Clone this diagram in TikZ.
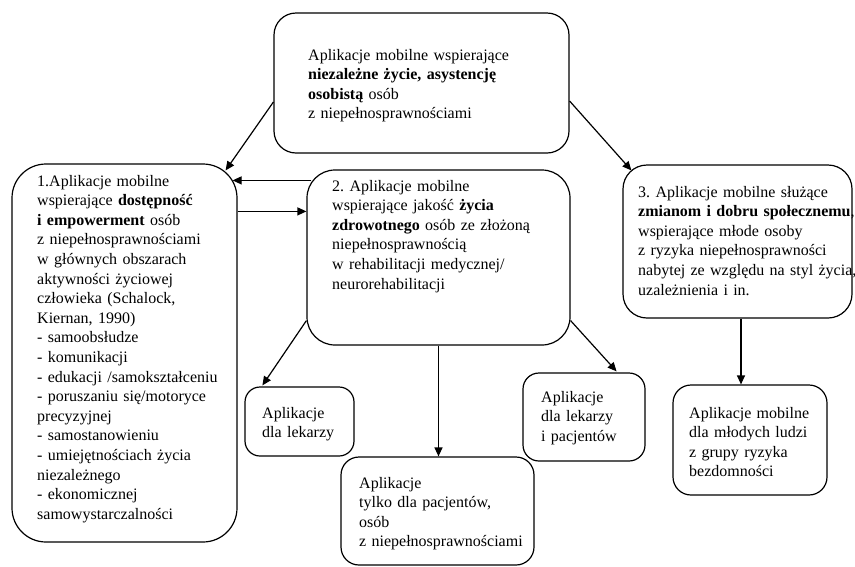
\documentclass[tikz,border=0pt]{standalone}
\usepackage{fontspec}
\setmainfont{Liberation Serif}
\usetikzlibrary{arrows.meta}
\frenchspacing
\begin{document}
\begin{tikzpicture}[x=1pt,y=-1pt,
  box/.style={draw, line width=1.2pt, inner sep=0pt},
  txt/.style={inner sep=0pt, anchor=base west, text width=320pt, align=left,
    font=\fontsize{16}{19.6}\selectfont},
  arr/.style={-{Triangle[length=9pt,width=8pt]}, line width=1.2pt}]
\useasboundingbox (0,0) rectangle (855,566);
% boxes
\node[box, rounded corners=22pt, minimum width=295pt, minimum height=140pt] (top) at (421.5,83) {};
\node[box, rounded corners=34pt, minimum width=225pt, minimum height=378pt] (b1) at (124.5,353) {};
\node[box, rounded corners=28pt, minimum width=263pt, minimum height=175pt] (b2) at (438.5,257.5) {};
\node[box, rounded corners=24pt, minimum width=229pt, minimum height=153pt] (b3) at (737.5,241.5) {};
\node[box, rounded corners=15pt, minimum width=109pt, minimum height=69pt] (lek) at (299.5,421.5) {};
\node[box, rounded corners=18pt, minimum width=193pt, minimum height=108pt] (pac) at (437.5,511) {};
\node[box, rounded corners=16pt, minimum width=122pt, minimum height=88pt] (lp) at (584,417) {};
\node[box, rounded corners=18pt, minimum width=154pt, minimum height=110pt] (br) at (750,440) {};
% texts
\node[txt] (ttop) at (308,60) {Aplikacje mobilne wspierające\\ \textbf{niezależne życie, asystencję}\\ \textbf{osobistą} osób\\ z niepełnosprawnościami};
\node[txt] (tb1) at (37,186) {1.Aplikacje mobilne\\ wspierające \textbf{dostępność}\\ \textbf{i empowerment} osób\\ z niepełnosprawnościami\\ w głównych obszarach\\ aktywności życiowej\\ człowieka (Schalock,\\ Kiernan, 1990)\\ - samoobsłudze\\ - komunikacji\\ - edukacji /samokształceniu\\ - poruszaniu się/motoryce\\ precyzyjnej\\ - samostanowieniu\\ - umiejętnościach życia\\ niezależnego\\ - ekonomicznej\\ samowystarczalności};
\node[txt] (tb2) at (332,191) {2. Aplikacje mobilne\\ wspierające jakość \textbf{życia}\\ \textbf{zdrowotnego} osób ze złożoną\\ niepełnosprawnością\\ w rehabilitacji medycznej/\\ neurorehabilitacji};
\node[txt] (tb3) at (638,197) {3. Aplikacje mobilne służące\\ \textbf{zmianom i dobru społecznemu},\\ wspierające młode osoby\\ z ryzyka niepełnosprawności\\ nabytej ze względu na styl życia,\\ uzależnienia i in.};
\node[txt] (tlek) at (262,418) {Aplikacje\\ dla lekarzy};
\node[txt] (tpac) at (359,488) {Aplikacje\\ tylko dla pacjentów,\\ osób\\ z niepełnosprawnościami};
\node[txt] (tlp) at (541,402) {Aplikacje\\ dla lekarzy\\ i pacjentów};
\node[txt] (tbr) at (689,418) {Aplikacje mobilne\\ dla młodych ludzi\\ z grupy ryzyka\\ bezdomności};
% connectors
\draw[arr] ([yshift=-19pt]top.west) -- ([xshift=-12pt,yshift=-7pt]b1.north east);
\draw[arr] ([yshift=-18pt]top.east) -- ([xshift=9pt,yshift=-6pt]b3.north west);
\draw[arr] ([xshift=5pt,yshift=-11pt]b2.north west) -- ([xshift=-5pt,yshift=-17pt]b1.north east);
\draw[arr] ([yshift=-48pt]b1.north east) -- ([yshift=-42pt]b2.north west);
\draw[arr] ([yshift=25pt]b2.south west) -- ([xshift=18pt,yshift=1pt]lek.north west);
\draw[arr] (b2.south) -- (b2.south |- pac.north);
\draw[arr] ([yshift=25pt]b2.south east) -- ([xshift=-29pt,yshift=1pt]lp.north east);
\draw[arr] ([xshift=3.5pt]b3.south) -- ([xshift=3.5pt]b3.south |- br.north);
\end{tikzpicture}
\end{document}
